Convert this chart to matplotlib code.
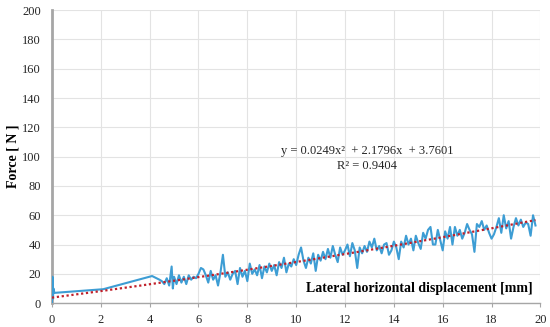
import matplotlib
matplotlib.use("Agg")
import matplotlib.pyplot as plt
import numpy as np

disp = [0.0, 0.02, 0.04, 0.06, 0.1, 2.1, 4.1, 4.4,
        4.5, 4.6, 4.7, 4.8, 4.9, 4.95, 5.0, 5.1, 5.2, 5.3, 5.4, 5.5, 5.6, 5.7, 5.8, 5.9,
        6.0, 6.1, 6.2, 6.3, 6.4, 6.5, 6.6, 6.7, 6.8, 6.9, 7.0, 7.1, 7.2, 7.3, 7.4, 7.5,
        7.6, 7.7, 7.8, 7.9, 8.0, 8.1, 8.2, 8.3, 8.4, 8.5, 8.6, 8.7, 8.8, 8.9, 9.0, 9.1,
        9.2, 9.3, 9.4, 9.5, 9.6, 9.7, 9.8, 9.9, 10.0, 10.1, 10.2, 10.3, 10.4, 10.5, 10.6,
        10.7, 10.8, 10.9, 11.0, 11.1, 11.2, 11.3, 11.4, 11.5, 11.6, 11.7, 11.8, 11.9,
        12.0, 12.1, 12.2, 12.3, 12.4, 12.5, 12.6, 12.7, 12.8, 12.9, 13.0, 13.1, 13.2,
        13.3, 13.4, 13.5, 13.6, 13.7, 13.8, 13.9, 14.0, 14.1, 14.2, 14.3, 14.4, 14.5,
        14.6, 14.7, 14.8, 14.9, 15.0, 15.1, 15.2, 15.3, 15.4, 15.5, 15.6, 15.7, 15.8,
        15.9, 16.0, 16.1, 16.2, 16.3, 16.4, 16.5, 16.6, 16.7, 16.8, 16.9, 17.0, 17.1,
        17.2, 17.3, 17.4, 17.5, 17.6, 17.7, 17.8, 17.9, 18.0, 18.1, 18.2, 18.3, 18.4,
        18.5, 18.6, 18.7, 18.8, 18.9, 19.0, 19.1, 19.2, 19.3, 19.4, 19.5, 19.6, 19.7, 19.8]
force = [0, 18, 3, 10, 7, 9.5, 18.5, 16,
         15, 13, 17, 12, 25, 10, 18, 13, 19, 14, 18, 13, 19, 16, 18, 17,
         20, 24, 23, 19, 14, 22, 16, 19, 12, 21, 33, 18, 21, 16, 20, 22,
         13, 24, 18, 22, 15, 27, 20, 23, 19, 26, 17, 25, 21, 27, 22, 26,
         19, 28, 24, 31, 21, 27, 25, 30, 26, 33, 38, 29, 24, 31, 27,
         34, 22, 33, 29, 35, 30, 37, 31, 39, 33, 28, 38, 33,
         36, 40, 32, 41, 36, 24, 38, 34, 39, 35, 42, 38, 44,
         36, 39, 34, 40, 41, 33, 36, 42, 38, 30, 42, 38, 46,
         40, 44, 36, 46, 41, 37, 48, 44, 50, 52, 40, 40, 50,
         43, 36, 49, 44, 52, 40, 52, 46, 50, 44, 48, 54, 50,
         47, 35, 54, 52, 56, 50, 53, 48, 44, 47, 52, 58, 48,
         60, 51, 56, 44, 52, 58, 53, 57, 52, 55, 54, 46, 60, 53]
trend_coef = [0.0249, 2.1796, 3.7601]
x_ticks = [0, 2, 4, 6, 8, 10, 12, 14, 16, 18, 20]
y_ticks = [0, 20, 40, 60, 80, 100, 120, 140, 160, 180, 200]

plt.rcParams['font.family'] = ['Liberation Serif', 'DejaVu Serif']

fig = plt.figure(figsize=(5.5, 3.27), dpi=100)
ax = fig.add_axes([0.0945, 0.073, 0.888, 0.896])

ax.plot(disp, force, color='#3d9dd4', lw=1.5, zorder=3)
xt = np.linspace(0, max(disp), 200)
ax.plot(xt, np.polyval(trend_coef, xt), color='#c0202a', lw=1.6,
        linestyle=(0, (1, 1.2)), zorder=4)

ax.set_xlim(0, 20)
ax.set_ylim(0, 200)
ax.set_xticks(x_ticks)
ax.set_yticks(y_ticks)
ax.set_xticklabels([str(v) for v in x_ticks])
ax.set_yticklabels([str(v) for v in y_ticks])
ax.grid(True, color='#e3e3e3', lw=0.8)
ax.set_axisbelow(True)
for s in ['top', 'right']:
    ax.spines[s].set_visible(False)
ax.spines['left'].set_color('#a6a6a6')
ax.spines['left'].set_linewidth(2)
ax.spines['bottom'].set_color('#a6a6a6')
ax.spines['bottom'].set_linewidth(1)
ax.tick_params(axis='y', length=0, pad=8, labelsize=9, labelcolor='#262626')
ax.tick_params(axis='x', length=3, color='#a6a6a6', pad=5, labelsize=9,
               labelcolor='#262626')

ax.set_ylabel('Force [ N ]', fontsize=10, fontweight='bold', labelpad=2)
ax.text(19.7, 10, 'Lateral horizontal displacement [mm]', ha='right', va='center',
        fontsize=10, fontweight='bold', color='#000000')
ax.text(12.9, 104, 'y = 0.0249x²  + 2.1796x  + 3.7601', ha='center', va='center',
        fontsize=9, color='#262626')
ax.text(12.9, 93.5, 'R² = 0.9404', ha='center', va='center', fontsize=9,
        color='#262626')

fig.savefig('out.png', dpi=100)
